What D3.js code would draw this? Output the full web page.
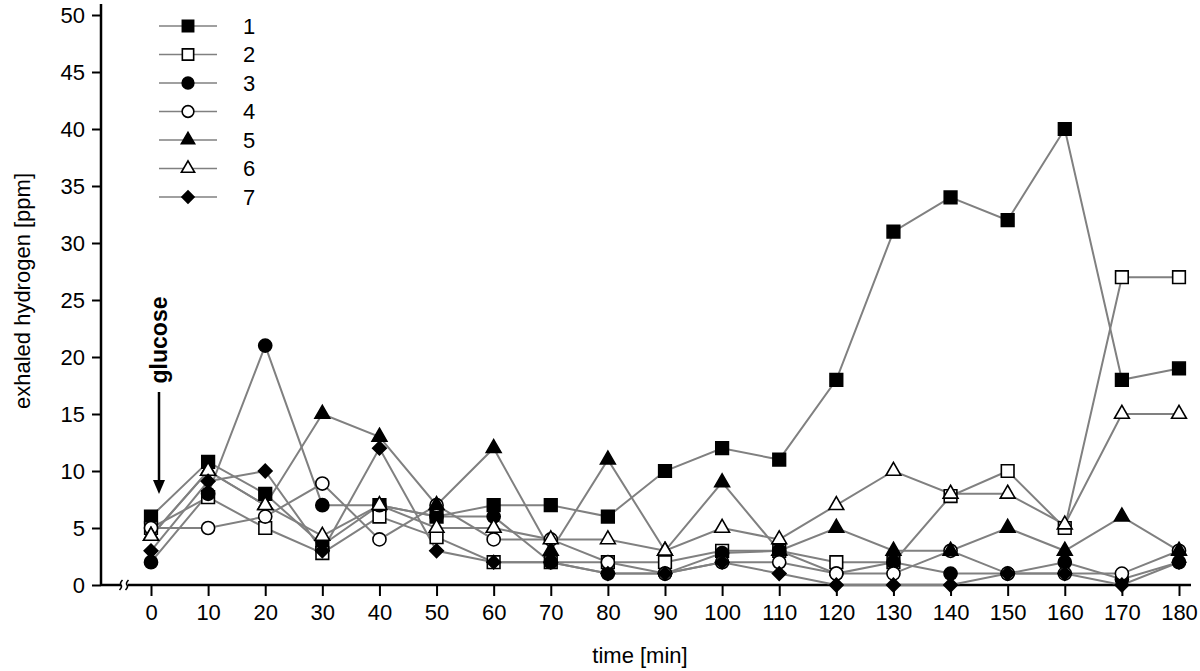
<!DOCTYPE html>
<html>
<head>
<meta charset="utf-8">
<script src="https://cdn.jsdelivr.net/npm/d3@7"></script>
<style>
  body { margin: 0; background: #fff; }
  svg { display: block; font-family: "Liberation Sans", Arial, sans-serif; }
</style>
</head>
<body>
<svg id="chart" width="1200" height="671"></svg>
<script>
// time points [min]
var times = [0, 10, 20, 30, 40, 50, 60, 70, 80, 90, 100, 110, 120, 130, 140, 150, 160, 170, 180];

// exhaled hydrogen [ppm] per subject
var s1 = [6, 10.8, 8, 3.5, 7, 6, 7, 7, 6, 10, 12, 11, 18, 31, 34, 32, 40, 18, 19];
var s2 = [5, 7.7, 5, 2.8, 6, 4.2, 2, 2, 2, 2, 3, 3, 2, 2, 7.8, 10, 5, 27, 27];
var s3 = [2, 8, 21, 7, 7, 6, 6, 2, 1, 1, 2.8, 3, 1, 2, 1, 1, 2, 0.5, 2];
var s4 = [5, 5, 6, 8.9, 4, 7, 4, 4, 2, 1, 2, 2, 1, 1, 3, 1, 1, 1, 3];
var s5 = [4.3, 10, 7, 15, 13, 7, 12, 3, 11, 3, 9, 3, 5, 3, 3, 5, 3, 6, 3];
var s6 = [4.3, 10, 7, 4.3, 7, 5, 5, 4, 4, 3, 5, 4, 7, 10, 8, 8, 5.3, 15, 15];
var s7 = [3, 9.1, 10, 3, 12, 3, 2, 2, 1, 1, 2, 1, 0, 0, 0, 1, 1, 0, 2];

var seriesNames = ["1", "2", "3", "4", "5", "6", "7"];
var seriesValues = [s1, s2, s3, s4, s5, s6, s7];
var seriesShapes = ["square", "square", "circle", "circle", "triangle", "triangle", "diamond"];
var seriesFilled = [true, false, true, false, true, false, true];

var yTicks = [0, 5, 10, 15, 20, 25, 30, 35, 40, 45, 50];

var svg = d3.select("#chart");

var x = d3.scaleLinear().domain([0, 180]).range([151, 1179]);
var y = d3.scaleLinear().domain([0, 50]).range([585, 15]);

var axisX0 = 101;   // position of the y axis line

function symbolPath(shape, big) {
  var k = big ? 1 : 0.8;
  if (shape === "square") return d3.symbol(d3.symbolSquare, 160 * k)();
  if (shape === "circle") return d3.symbol(d3.symbolCircle, 135 * k)();
  if (shape === "triangle") return d3.symbol(d3.symbolTriangle, 95 * k)();
  return d3.symbol(d3.symbolSquare, 92 * k)();
}

function drawMarker(g, shape, filled, cx, cy, big) {
  g.append("path")
    .attr("d", symbolPath(shape, big))
    .attr("transform", "translate(" + cx + "," + cy + ")" + (shape === "diamond" ? " rotate(45)" : ""))
    .attr("fill", filled ? "#000" : "#fff")
    .attr("stroke", "#000")
    .attr("stroke-width", 1.6);
}

// axes
var yAxis = d3.axisLeft(y).tickValues(yTicks).tickSize(9).tickPadding(7);
var gy = svg.append("g").attr("transform", "translate(" + axisX0 + ",0)").call(yAxis);
gy.select(".domain").remove();
gy.selectAll(".tick line").attr("stroke", "#000").attr("stroke-width", 2);
gy.selectAll(".tick text").attr("fill", "#000").style("font-size", "22px");

var xAxis = d3.axisBottom(x).tickValues(times).tickSize(11).tickPadding(8);
var gx = svg.append("g").attr("transform", "translate(0," + y(0) + ")").call(xAxis);
gx.select(".domain").remove();
gx.selectAll(".tick line").attr("stroke", "#000").attr("stroke-width", 2);
gx.selectAll(".tick text").attr("fill", "#000").style("font-size", "22px");

svg.append("line")
  .attr("x1", axisX0).attr("x2", axisX0).attr("y1", 4).attr("y2", y(0) + 1)
  .attr("stroke", "#000").attr("stroke-width", 2.5);
svg.append("line")
  .attr("x1", axisX0).attr("x2", 1191).attr("y1", y(0)).attr("y2", y(0))
  .attr("stroke", "#000").attr("stroke-width", 2.5);

// axis break
svg.append("rect").attr("x", 121).attr("y", y(0) - 4).attr("width", 7).attr("height", 8).attr("fill", "#fff");
[121, 127].forEach(function(bx) {
  svg.append("path")
    .attr("d", "M" + (bx - 1.5) + "," + (y(0) + 5) + " q 3,-3 1.5,-5 q -1.5,-2 1.5,-5")
    .attr("fill", "none").attr("stroke", "#000").attr("stroke-width", 1.6);
});

// axis titles
svg.append("text")
  .attr("transform", "translate(30,291) rotate(-90)")
  .attr("text-anchor", "middle")
  .style("font-size", "22px")
  .text("exhaled hydrogen [ppm]");

svg.append("text")
  .attr("x", 640).attr("y", 663)
  .attr("text-anchor", "middle")
  .style("font-size", "22px")
  .text("time [min]");

// lines
var line = d3.line()
  .x(function(d, i) { return x(times[i]); })
  .y(function(d) { return y(d); });

var gLines = svg.append("g");
seriesValues.forEach(function(vals) {
  gLines.append("path")
    .attr("d", line(vals))
    .attr("fill", "none")
    .attr("stroke", "#808080")
    .attr("stroke-width", 2);
});

// markers
var gMarks = svg.append("g");
seriesValues.forEach(function(vals, si) {
  vals.forEach(function(v, i) {
    drawMarker(gMarks, seriesShapes[si], seriesFilled[si], x(times[i]), y(v), true);
  });
});

// glucose annotation
svg.append("text")
  .attr("transform", "translate(167,340) rotate(-90)")
  .attr("text-anchor", "middle")
  .style("font-size", "23px")
  .style("font-weight", "bold")
  .text("glucose");

svg.append("line")
  .attr("x1", 159).attr("x2", 159).attr("y1", 392).attr("y2", 482)
  .attr("stroke", "#000").attr("stroke-width", 2.5);
svg.append("path")
  .attr("d", "M153,480 L165,480 L159,494 Z")
  .attr("fill", "#000");

// legend
var legend = svg.append("g");
seriesNames.forEach(function(name, i) {
  var ly = 26 + i * 28.5;
  legend.append("line")
    .attr("x1", 159).attr("x2", 217).attr("y1", ly).attr("y2", ly)
    .attr("stroke", "#808080").attr("stroke-width", 1.5);
  drawMarker(legend, seriesShapes[i], seriesFilled[i], 188, ly, false);
  legend.append("text")
    .attr("x", 243).attr("y", ly)
    .attr("dy", "0.36em")
    .style("font-size", "22px")
    .text(name);
});
</script>
</body>
</html>
